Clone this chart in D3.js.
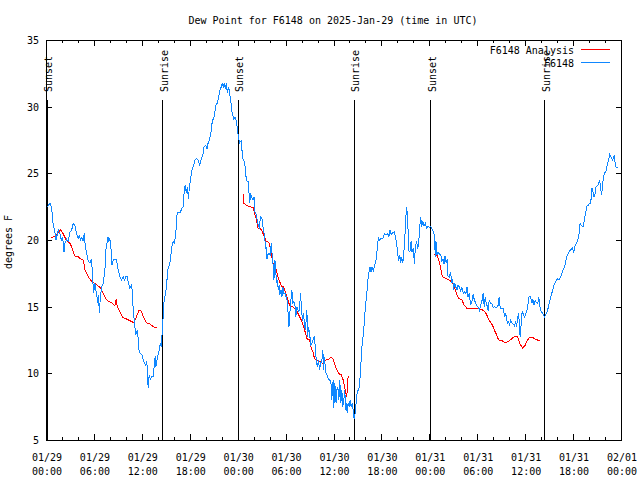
<!DOCTYPE html>
<html><head><meta charset="utf-8">
<script src="https://cdn.jsdelivr.net/npm/d3@7"></script>
<style>
body{margin:0;background:#fff}
text{font-family:"DejaVu Sans Mono","Liberation Mono",monospace;font-size:10px;fill:#000}
</style>
</head><body>
<svg id="c" width="640" height="480"></svg>
<script>
const titleText = "Dew Point for F6148 on 2025-Jan-29 (time in UTC)";
const yAxisLabel = "degrees F";
const yTicks = [5, 10, 15, 20, 25, 30, 35];
const xTickHours = [0, 6, 12, 18, 24, 30, 36, 42, 48, 54, 60, 66, 72];
const xTickDates = ["01/29","01/29","01/29","01/29","01/30","01/30","01/30","01/30","01/31","01/31","01/31","01/31","02/01"];
const xTickTimes = ["00:00","06:00","12:00","18:00","00:00","06:00","12:00","18:00","00:00","06:00","12:00","18:00","00:00"];
const xMinorHours = [2,4,8,10,14,16,20,22,26,28,32,34,38,40,44,46,50,52,56,58,62,64,68,70];
const eventHours = [0.12, 14.54, 24.04, 38.54, 48.09, 62.41];
const eventLabels = ["Sunset","Sunrise","Sunset","Sunrise","Sunset","Sunrise"];
const seriesNames = ["F6148 Analysis", "F6148"];
const seriesColors = ["#ff0000", "#0f87ff"];

// observed dew point, [hours since 01/29 00:00 UTC, degrees F]
const obsDay29 = [[0.17,22.5],[0.5,22.75],[0.71,22.4],[0.92,21.0],[1.08,20.75],[1.25,20.0],[1.54,20.75],[1.75,20.45],[1.96,19.9],[2.08,20.25],[2.25,19.1],[2.375,19.75],[2.58,20.05],[2.79,19.9],[3.0,20.6],[3.21,20.75],[3.42,21.25],[3.625,21.05],[3.83,20.5],[4.04,20.05],[4.17,20.4],[4.33,20.0],[4.5,20.2],[4.67,19.9],[4.79,20.5],[4.92,19.5],[5.08,19.1],[5.29,18.4],[5.5,18.3],[5.71,18.6],[5.83,17.25],[5.96,16.0],[6.125,16.75],[6.25,16.25],[6.375,15.75],[6.5,15.25],[6.58,15.9],[6.67,14.5],[6.83,15.9],[7.0,16.5],[7.17,16.75],[7.375,17.75],[7.5,19.25],[7.625,19.75],[7.75,20.25],[7.875,19.9],[8.0,20.1],[8.125,19.5],[8.25,18.1],[8.42,18.5],[8.625,18.55],[8.83,18.5],[9.04,17.75],[9.25,17.25],[9.46,17.0],[9.67,17.25],[9.83,17.0],[10.0,17.25],[10.17,17.25],[10.33,16.75],[10.5,16.4],[10.67,16.6],[10.79,16.25],[10.92,14.75],[11.08,13.75],[11.25,12.9],[11.42,13.25],[11.54,12.6],[11.67,11.6],[11.83,11.5],[12.0,11.4],[12.17,11.0],[12.33,10.75],[12.5,10.6],[12.625,10.9],[12.71,10.0],[12.79,8.9],[12.92,9.9],[13.08,9.55],[13.25,9.75],[13.42,9.75],[13.54,10.5],[13.67,11.3],[13.75,10.5],[13.875,10.9],[14.04,11.4],[14.17,11.75],[14.33,12.25],[14.46,12.0],[14.54,13.0],[14.67,14.25],[14.79,15.5],[14.96,15.9],[15.08,16.5],[15.25,17.75],[15.42,18.1],[15.58,18.5],[15.75,19.5],[15.92,19.9],[16.08,19.75],[16.25,20.5],[16.42,22.0],[16.625,22.1],[16.83,22.1],[17.04,22.4],[17.17,22.5],[17.29,23.5],[17.42,24.1],[17.58,23.5],[17.71,24.0],[17.83,23.1],[17.96,24.0],[18.08,24.5],[18.21,25.0],[18.33,25.4],[18.5,25.6],[18.625,26.0],[18.83,26.1],[19.04,26.0],[19.25,25.6],[19.46,26.1],[19.67,26.5],[19.79,27.0],[20.0,27.1],[20.17,26.8],[20.29,27.25],[20.5,27.6],[20.71,28.25],[20.83,29.0],[21.0,29.1],[21.125,29.5],[21.25,30.1],[21.42,30.25],[21.54,30.5],[21.67,30.9],[21.79,31.25],[21.96,31.5],[22.08,31.75],[22.21,31.4],[22.33,31.8],[22.46,31.3],[22.58,31.75],[22.71,31.05],[22.875,31.5],[23.0,30.95],[23.125,30.6],[23.21,29.9],[23.33,29.45],[23.5,29.1],[23.67,29.2],[23.83,28.9]];
const obsDay30 = [[24.0,28.25],[24.08,27.75],[24.25,27.3],[24.46,27.45],[24.58,26.4],[24.71,25.95],[24.875,25.9],[25.0,24.9],[25.17,24.4],[25.33,24.4],[25.5,22.75],[25.625,23.5],[25.75,23.2],[25.92,23.0],[26.04,23.25],[26.17,22.1],[26.33,21.9],[26.46,21.4],[26.625,21.0],[26.75,20.9],[26.83,21.75],[26.96,21.7],[27.08,21.5],[27.17,21.0],[27.29,20.6],[27.42,19.95],[27.5,19.4],[27.58,19.5],[27.67,18.55],[27.79,18.9],[27.92,19.0],[28.08,18.9],[28.21,19.75],[28.33,18.8],[28.46,18.0],[28.54,17.0],[28.67,18.5],[28.75,17.75],[28.875,16.75],[29.0,17.0],[29.08,16.25],[29.21,16.6],[29.29,15.9],[29.42,16.25],[29.54,15.75],[29.67,16.45],[29.79,16.0],[29.96,16.0],[30.08,15.7],[30.21,15.4],[30.29,14.75],[30.42,13.5],[30.5,14.1],[30.58,14.9],[30.71,15.75],[30.79,16.25],[30.92,15.25],[31.04,15.4],[31.17,15.1],[31.29,14.25],[31.42,15.0],[31.54,14.8],[31.67,14.6],[31.79,15.25],[31.875,16.0],[32.0,14.75],[32.125,13.9],[32.21,14.5],[32.33,14.0],[32.46,13.25],[32.58,14.0],[32.67,14.75],[32.75,12.75],[32.875,13.5],[33.0,13.0],[33.17,12.1],[33.33,12.3],[33.5,12.6],[33.625,12.8],[33.75,11.6],[33.875,10.75],[34.0,10.5],[34.125,11.0],[34.25,10.25],[34.375,10.75],[34.54,10.9],[34.67,11.75],[34.75,10.25],[34.875,11.25],[35.0,10.1],[35.17,9.9],[35.33,9.6],[35.5,9.5],[35.67,9.45],[35.79,8.0],[35.875,9.0],[35.96,9.5],[36.04,7.4],[36.17,9.25],[36.25,8.5],[36.33,7.75],[36.42,8.75],[36.54,9.0],[36.67,8.0],[36.79,9.5],[36.92,7.75],[37.04,8.75],[37.17,7.5],[37.29,8.0],[37.42,8.75],[37.5,7.25],[37.625,7.75],[37.71,7.0],[37.83,7.75],[37.96,7.5],[38.08,8.0],[38.21,7.45],[38.33,7.75],[38.46,7.25],[38.58,6.6],[38.71,7.0],[38.83,7.75],[39.0,8.75],[39.17,8.75],[39.25,9.25],[39.375,10.0],[39.46,11.0],[39.58,12.1],[39.75,13.0],[39.875,14.0],[40.0,15.0],[40.17,16.0],[40.29,16.9],[40.42,17.5],[40.58,18.0],[40.71,17.6],[40.83,18.0],[41.0,17.7],[41.125,18.0],[41.33,18.5],[41.46,19.25],[41.625,20.25],[41.75,20.0],[41.96,20.1],[42.17,20.1],[42.375,20.5],[42.58,20.4],[42.79,20.5],[42.92,20.2],[43.08,20.75],[43.21,20.4],[43.42,20.55],[43.625,20.6],[43.83,20.0],[43.96,19.45],[44.08,18.75],[44.17,18.4],[44.29,18.9],[44.42,18.25],[44.54,18.75],[44.67,18.25],[44.79,18.9],[44.92,20.0],[45.04,21.6],[45.17,22.5],[45.29,21.5],[45.375,20.0],[45.46,19.1],[45.58,19.2],[45.71,19.9],[45.83,19.1],[46.0,19.4],[46.125,18.2],[46.25,19.5],[46.42,19.9],[46.54,19.3],[46.67,19.75],[46.79,21.0],[46.92,21.7],[47.04,20.95],[47.17,21.4],[47.33,21.05],[47.5,21.25],[47.67,20.9],[47.83,21.05]];
const obsDay31 = [[48.0,20.95],[48.21,21.0],[48.42,20.75],[48.58,20.5],[48.67,19.75],[48.75,18.75],[48.83,19.9],[48.96,18.9],[49.08,19.1],[49.25,18.95],[49.42,18.9],[49.58,18.4],[49.71,18.6],[49.83,18.2],[49.96,18.8],[50.125,18.25],[50.25,18.6],[50.33,17.3],[50.5,17.2],[50.67,17.6],[50.79,16.8],[50.92,17.1],[51.04,16.25],[51.17,16.8],[51.33,16.45],[51.46,16.25],[51.58,16.6],[51.75,16.5],[51.92,16.2],[52.08,16.45],[52.25,16.0],[52.42,16.1],[52.58,15.95],[52.71,16.5],[52.83,15.7],[53.0,16.0],[53.17,15.1],[53.33,15.4],[53.5,15.95],[53.625,15.5],[53.79,15.3],[53.96,15.05],[54.125,14.95],[54.29,14.7],[54.42,15.1],[54.58,15.4],[54.75,16.05],[54.875,15.0],[55.0,15.7],[55.125,15.25],[55.25,15.05],[55.375,14.7],[55.5,15.5],[55.67,15.25],[55.83,15.2],[56.0,14.9],[56.17,15.0],[56.375,14.95],[56.58,15.0],[56.75,15.75],[56.875,14.9],[57.04,14.9],[57.25,14.9],[57.42,14.25],[57.54,14.55],[57.67,14.1],[57.79,13.7],[57.92,13.95],[58.04,13.55],[58.17,14.0],[58.33,13.8],[58.5,13.7],[58.67,13.55],[58.79,13.9],[58.92,13.45],[59.04,14.1],[59.17,14.5],[59.25,13.9],[59.375,12.7],[59.5,13.75],[59.625,14.7],[59.75,14.45],[59.92,14.25],[60.08,14.45],[60.21,14.7],[60.33,15.1],[60.5,15.8],[60.67,15.8],[60.83,15.25],[60.96,15.55],[61.08,15.1],[61.25,15.45],[61.42,15.3],[61.58,15.25],[61.71,15.75],[61.83,15.05],[61.96,14.7],[62.125,14.55],[62.29,14.4],[62.42,14.2],[62.58,14.4],[62.75,14.6],[62.92,15.0],[63.08,15.45],[63.25,15.8],[63.42,16.2],[63.58,16.55],[63.75,16.8],[63.92,17.0],[64.08,17.1],[64.25,17.0],[64.42,17.2],[64.58,17.45],[64.75,17.75],[64.92,17.95],[65.08,18.4],[65.25,18.8],[65.42,19.05],[65.58,19.2],[65.75,19.3],[65.92,19.4],[66.08,19.1],[66.25,19.55],[66.42,19.75],[66.58,19.95],[66.75,20.5],[66.875,21.25],[67.04,21.1],[67.25,21.0],[67.42,21.5],[67.58,22.1],[67.75,22.55],[67.92,22.6],[68.0,22.7],[68.125,22.75],[68.25,23.05],[68.375,23.9],[68.5,23.6],[68.625,23.2],[68.75,23.45],[68.875,24.0],[69.04,24.05],[69.21,24.25],[69.33,24.5],[69.46,23.8],[69.58,23.4],[69.71,24.25],[69.83,24.8],[69.96,25.05],[70.08,25.1],[70.21,25.4],[70.33,25.75],[70.46,26.05],[70.58,26.4],[70.71,26.25],[70.83,26.1],[70.96,26.0],[71.08,26.25],[71.17,26.4],[71.29,25.6],[71.42,25.4],[71.58,25.45]];

// analysis dew point, [hours, degrees F]
const anaDay29 = [[0.625,20.2],[1.125,20.25],[1.54,20.6],[1.83,20.75],[2.17,20.45],[2.5,20.05],[3.0,19.75],[3.21,19.5],[3.42,19.1],[3.625,18.8],[4.04,18.75],[4.25,18.6],[4.67,18.5],[4.875,17.75],[5.29,17.25],[5.71,16.9],[6.125,16.75],[6.54,16.55],[6.75,16.45],[7.17,16.0],[7.46,15.6],[7.79,15.4],[8.21,15.3],[8.625,15.05],[8.79,15.6],[8.92,15.0],[9.25,14.6],[9.58,14.2],[10.0,14.1],[10.5,13.95],[11.0,13.8],[11.33,14.25],[11.625,14.7],[11.875,14.7],[12.17,14.3],[12.58,13.8],[13.0,13.7],[13.42,13.5],[13.75,13.4],[13.92,13.45]];
const anaDay30 = [[24.67,23.45],[24.79,22.75],[25.08,22.6],[25.5,22.5],[25.92,22.45],[26.125,22.0],[26.33,21.55],[26.54,20.9],[26.96,20.8],[27.17,20.5],[27.375,20.25],[27.58,19.9],[27.92,19.8],[28.08,19.4],[28.29,18.7],[28.5,18.1],[28.83,17.75],[29.04,17.25],[29.25,16.9],[29.46,16.55],[29.75,16.5],[29.96,16.1],[30.17,15.75],[30.5,15.1],[30.92,15.0],[31.33,14.75],[31.54,14.5],[31.75,14.25],[31.96,14.0],[32.25,13.5],[32.5,13.0],[32.67,12.6],[33.0,12.5],[33.21,11.9],[33.42,11.6],[33.625,11.1],[33.92,11.0],[34.25,10.9],[34.67,10.75],[35.08,11.0],[35.5,11.1],[35.71,11.2],[35.92,11.1],[36.25,10.5],[36.54,10.1],[36.75,9.95],[36.96,9.9],[37.17,9.6],[37.375,9.0],[37.58,8.4],[37.67,8.25],[37.79,9.6],[37.92,9.75]];
const anaDay31 = [[48.625,18.9],[48.92,18.9],[49.17,18.5],[49.375,18.0],[49.58,17.4],[49.75,17.2],[50.08,17.1],[50.5,17.0],[50.71,16.9],[50.92,16.75],[51.125,16.5],[51.33,16.1],[51.54,15.75],[51.75,15.6],[52.08,15.5],[52.375,15.1],[52.67,14.9],[53.42,14.9],[54.04,14.9],[54.25,14.8],[54.67,14.75],[55.0,14.6],[55.29,14.25],[55.58,13.9],[55.92,13.6],[56.125,13.25],[56.42,12.9],[56.67,12.5],[57.08,12.45],[57.5,12.3],[57.92,12.4],[58.33,12.6],[58.75,12.8],[59.04,12.75],[59.33,12.25],[59.67,11.9],[60.0,12.1],[60.29,12.5],[60.58,12.7],[60.92,12.7],[61.25,12.55],[61.54,12.5],[61.83,12.5]];

const L = 46, R = 621, T = 40, B = 440;
const svg = d3.select("#c");
const x = d3.scaleLinear().domain([0, 72]).range([L, R]);
const y = d3.scaleLinear().domain([5, 35]).range([B, T]);
const px = v => Math.round(v) + 0.5;

svg.append("rect").attr("width", 640).attr("height", 480).attr("fill", "#fff");

// title
svg.append("text").attr("x", 333).attr("y", 24).attr("text-anchor", "middle").text(titleText);

// y axis label
svg.append("text").attr("transform", "translate(12,242) rotate(-90)")
  .attr("text-anchor", "middle").text(yAxisLabel);

const axes = svg.append("g").attr("stroke", "#000").attr("stroke-width", 1).attr("shape-rendering", "crispEdges");

// y ticks (left and mirrored right)
yTicks.forEach(v => {
  const yy = px(y(v));
  axes.append("line").attr("x1", L).attr("x2", L + 6).attr("y1", yy).attr("y2", yy);
  axes.append("line").attr("x1", R - 5).attr("x2", R + 1).attr("y1", yy).attr("y2", yy);
  svg.append("text").attr("x", 39).attr("y", y(v) + 4).attr("text-anchor", "end").text(v);
});

// x ticks
xTickHours.forEach((h, i) => {
  const xx = px(x(h));
  axes.append("line").attr("x1", xx).attr("x2", xx).attr("y1", B).attr("y2", B - 6);
  axes.append("line").attr("x1", xx).attr("x2", xx).attr("y1", T).attr("y2", T + 6);
  svg.append("text").attr("x", x(h) + 1).attr("y", 461).attr("text-anchor", "middle").text(xTickDates[i]);
  svg.append("text").attr("x", x(h) + 1).attr("y", 475).attr("text-anchor", "middle").text(xTickTimes[i]);
});
xMinorHours.forEach(h => {
  const xx = px(x(h));
  axes.append("line").attr("x1", xx).attr("x2", xx).attr("y1", B).attr("y2", B - 3);
  axes.append("line").attr("x1", xx).attr("x2", xx).attr("y1", T).attr("y2", T + 3);
});

// frame
axes.append("rect").attr("x", L + 0.5).attr("y", T + 0.5).attr("width", R - L).attr("height", B - T).attr("fill", "none");

// sunrise / sunset events
eventHours.forEach((h, i) => {
  const xx = px(x(h));
  axes.append("line").attr("x1", xx).attr("x2", xx).attr("y1", 100).attr("y2", B);
  svg.append("text").attr("transform", `translate(${x(h) + 5.5},92) rotate(-90)`)
    .attr("text-anchor", "start").text(eventLabels[i]);
});

// series
const line = d3.line().x(d => x(d[0])).y(d => y(d[1]));
const plot = svg.append("g").attr("fill", "none").attr("stroke-width", 1).attr("shape-rendering", "crispEdges");
[anaDay29, anaDay30, anaDay31].forEach(s => {
  plot.append("path").attr("d", line(s)).attr("stroke", seriesColors[0]);
});
[obsDay29.concat(obsDay30, obsDay31)].forEach(s => {
  plot.append("path").attr("d", line(s)).attr("stroke", seriesColors[1]);
});

// legend
seriesNames.forEach((name, i) => {
  const ly = 49.5 + i * 13;
  svg.append("text").attr("x", 574).attr("y", ly + 4).attr("text-anchor", "end").text(name);
  svg.append("line").attr("x1", 581).attr("x2", 610).attr("y1", ly).attr("y2", ly)
    .attr("stroke", seriesColors[i]).attr("shape-rendering", "crispEdges");
});
</script>
</body></html>
